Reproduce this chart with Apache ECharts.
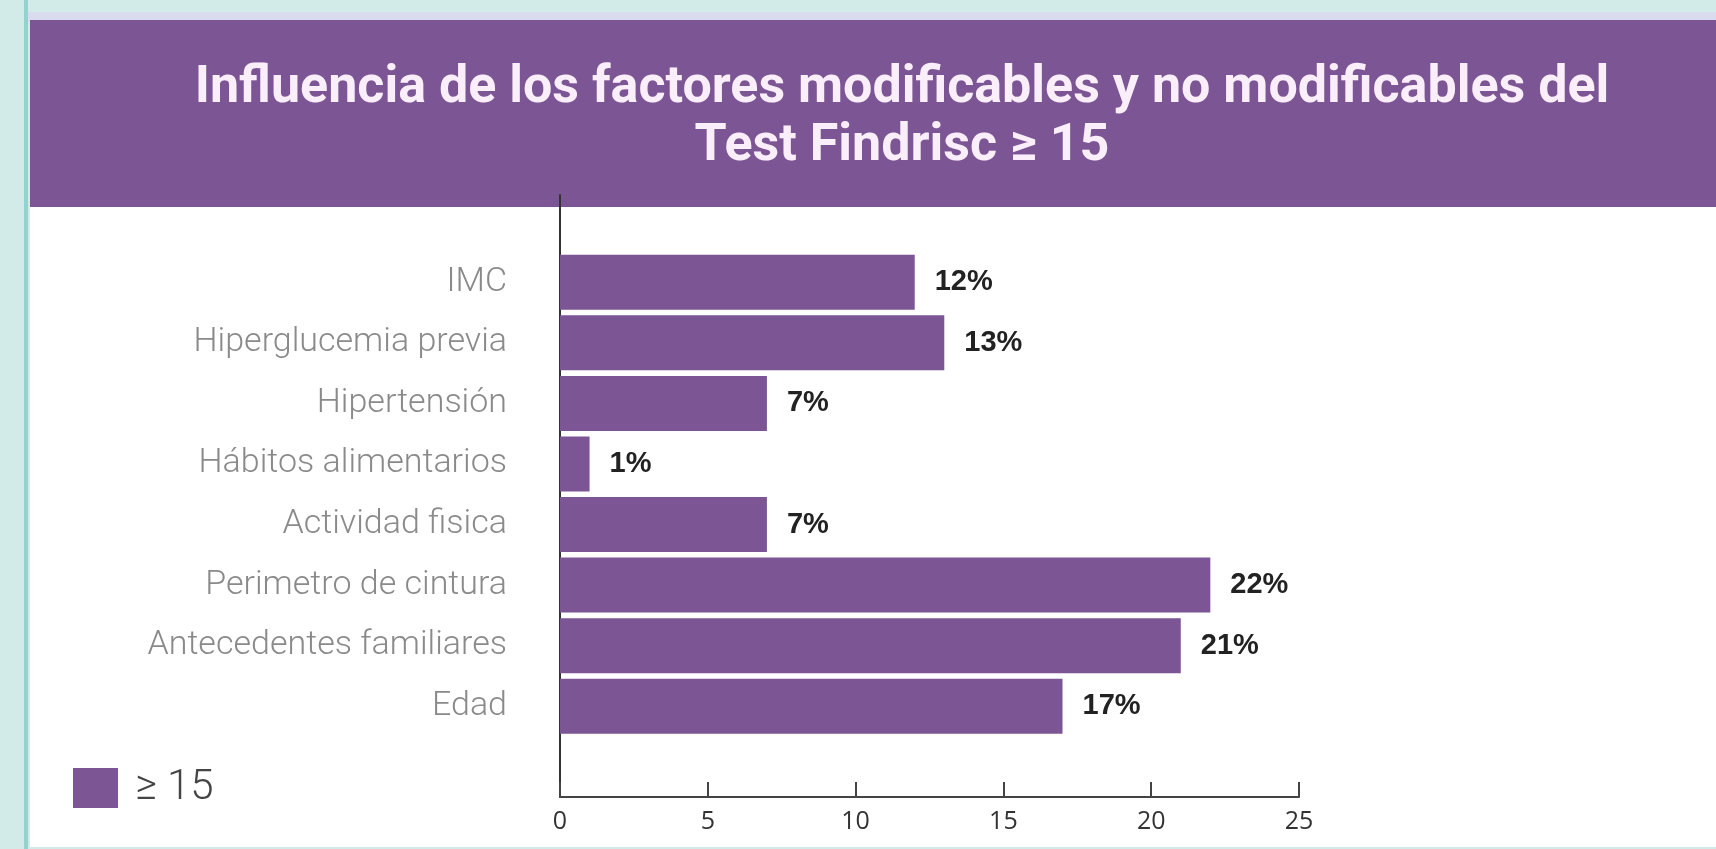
<!DOCTYPE html>
<html>
<head>
<meta charset="utf-8">
<script src="https://cdn.jsdelivr.net/npm/echarts@6/dist/echarts.min.js"></script>
<style>
html,body{margin:0;padding:0;background:#d3ebe8;}
#chart{width:1716px;height:849px;}
</style>
</head>
<body>
<div id="chart"></div>
<script>
const titleText = 'Influencia de los factores modificables y no modificables del\nTest Findrisc ≥ 15';
const categories = ['IMC', 'Hiperglucemia previa', 'Hipertensión', 'Hábitos alimentarios', 'Actividad fisica', 'Perimetro de cintura', 'Antecedentes familiares', 'Edad'];
const values = [12, 13, 7, 1, 7, 22, 21, 17];
const seriesName = '≥ 15';
const xTicks = [0, 5, 10, 15, 20, 25];

const purple = '#7c5594';
const chart = echarts.init(document.getElementById('chart'));
chart.setOption({
  backgroundColor: 'transparent',
  animation: false,
  graphic: [
    { type: 'rect', z: -10, shape: { x: 0, y: 0, width: 1716, height: 849 }, style: { fill: '#d3ebe8' } },
    { type: 'rect', z: -9, shape: { x: 24, y: 12, width: 1692, height: 10 }, style: { fill: '#d9dcef' } },
    { type: 'rect', z: -9, shape: { x: 24, y: 0, width: 4, height: 849 }, style: { fill: '#8fd5cd' } },
    { type: 'rect', z: -8, shape: { x: 30, y: 207, width: 1686, height: 640 }, style: { fill: '#ffffff' } },
    { type: 'rect', z: -8, shape: { x: 30, y: 20, width: 1686, height: 187 }, style: { fill: purple } }
  ],
  title: {
    text: titleText,
    left: 897,
    top: 55,
    textAlign: 'center',
    textStyle: {
      color: '#fbeefb',
      fontFamily: 'Roboto',
      fontWeight: 'bold',
      fontSize: 52,
      lineHeight: 58
    }
  },
  legend: {
    data: [seriesName],
    left: 68,
    top: 762,
    itemWidth: 45,
    itemHeight: 40,
    icon: 'rect',
    textStyle: {
      color: '#444',
      fontFamily: 'Roboto',
      fontWeight: 300,
      fontSize: 42,
      padding: [0, 0, 0, 12]
    }
  },
  grid: [
    { left: 560, right: 417, top: 252, bottom: 112.5 },
    { left: 560, right: 417, top: 195, bottom: 52 }
  ],
  xAxis: [
    {
      type: 'value', gridIndex: 0, min: 0, max: 25, interval: 5,
      offset: 60.5,
      axisLine: { show: true, lineStyle: { color: '#444', width: 2 } },
      axisTick: { show: true, inside: true, length: 15, lineStyle: { color: '#444', width: 2 } },
      axisLabel: { color: '#333', fontFamily: 'Open Sans', fontSize: 25, margin: 12,
        formatter: v => xTicks.includes(v) ? String(v) : '' },
      splitLine: { show: false }
    },
    { type: 'value', gridIndex: 1, min: 0, max: 25, show: false }
  ],
  yAxis: [
    {
      type: 'category', gridIndex: 0, data: categories, inverse: true,
      axisLine: { show: false },
      axisTick: { show: false },
      axisLabel: { color: '#8a8a8a', fontFamily: 'Roboto', fontWeight: 300, fontSize: 34, margin: 53 }
    },
    {
      type: 'value', gridIndex: 1, min: 0, max: 1,
      axisLine: { show: true, lineStyle: { color: '#333', width: 2 } },
      axisTick: { show: false }, axisLabel: { show: false }, splitLine: { show: false }
    }
  ],
  series: [
    {
      name: seriesName,
      type: 'bar',
      xAxisIndex: 0, yAxisIndex: 0,
      data: values,
      barWidth: 55,
      itemStyle: { color: purple },
      label: {
        show: true, position: 'right', distance: 20,
        formatter: p => p.value + '%',
        color: '#222', fontFamily: 'Liberation Sans', fontWeight: 'bold', fontSize: 29
      }
    }
  ]
});
</script>
</body>
</html>
